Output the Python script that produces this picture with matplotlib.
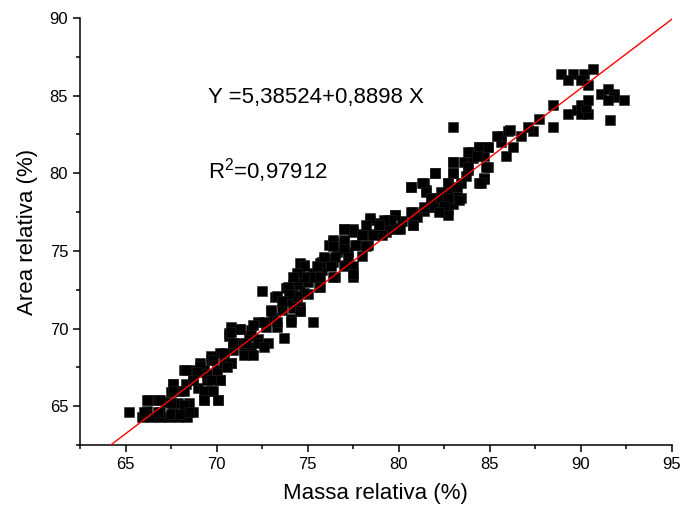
import numpy as np
import matplotlib.pyplot as plt
from matplotlib.ticker import MultipleLocator

plt.rcParams['font.family'] = ['Liberation Sans', 'DejaVu Sans']
plt.rcParams['mathtext.fontset'] = 'custom'
plt.rcParams['mathtext.rm'] = 'Liberation Sans'

# ===================== 数据 =====================
# 相对质量 (%) / 相对面积 (%)
mass_x = [
    65.2,
    65.9, 66.4, 66.9, 67.4, 67.9, 68.4,
    66.2, 66.9, 67.6, 68.3, 68.7,
    66.3, 66.8, 67.2, 67.9, 68.5, 69.3, 70.1,
    67.5, 68.0, 69.0, 69.7,
    67.6, 68.3, 68.7, 69.5, 70.2,
    68.2, 68.7, 69.3, 70.0,
    69.1, 69.7, 70.4, 70.8,
    70.2, 69.7, 70.9, 71.5, 71.9,
    70.9, 71.2, 71.8, 72.3, 72.8, 70.7,
    70.7, 70.8, 71.3, 71.9, 72.7, 73.3, 72.3, 73.1, 74.1,
    73.7, 75.3,
    73.0, 73.6, 74.2, 74.6, 74.6, 74.3,
    73.2, 73.9, 74.4, 75.0, 74.8, 74.2,
    73.8, 74.2, 74.6, 75.6, 72.5,
    74.4, 75.0, 75.3, 76.5, 77.5,
    74.6, 75.3, 75.8, 74.8,
    75.9, 76.4, 77.1, 77.5, 75.8, 74.6, 75.7, 76.3,
    76.6, 77.2, 78.0,
    76.4, 77.0, 77.7, 78.3, 76.2,
    77.5, 77.0, 78.0, 78.5, 79.3,
    78.4, 78.9, 79.4, 79.8, 80.8, 80.0, 80.8, 79.9, 80.2, 79.4,
    80.8, 81.4, 81.9, 82.6, 82.2, 82.7, 83.0,
    81.8, 82.3, 83.4, 82.9, 83.2,
    80.7, 81.5, 82.7, 81.4, 82.7, 83.4,
    82.0, 83.0, 83.8, 83.0, 83.6,
    84.4, 84.7, 84.9,
    84.0, 84.1, 84.7, 84.0, 84.4, 84.9,
    85.9, 86.3, 85.6, 85.6, 86.0, 86.1, 86.7, 87.4, 87.1, 87.7,
    83.0,
    88.5, 88.5,
    89.3, 89.8, 90.0, 90.4, 90.0, 90.3, 90.4,
    91.1, 91.5, 91.8, 91.8, 91.5, 92.4, 91.6,
    88.9, 89.6, 90.2, 90.7, 89.3, 90.0, 90.4,
    # 低端密集区
    73.9, 73.3, 74.4, 73.0, 74.6, 74.1, 73.3,
    70.8, 71.3, 72.0, 72.6, 70.9, 71.6, 72.3, 72.6, 71.5, 72.0, 70.4, 69.8,
    70.8, 70.6, 69.1, 68.3, 68.9, 69.5, 70.2, 69.7, 68.7, 67.6, 67.6, 68.2,
    69.3, 69.8, 69.3, 70.1, 66.2, 66.9, 67.5, 68.2, 68.5, 66.0, 66.8, 67.5, 68.0,
    # 中段密集区
    85.4, 84.4, 84.9, 83.8, 84.3, 84.8, 84.7, 84.5, 83.8, 83.0, 83.7, 82.0, 83.0,
    82.7, 83.2, 81.3, 80.7, 81.5, 82.3, 81.8, 82.7, 83.3, 82.5, 81.9, 81.4, 82.7,
    82.2, 80.7, 81.0, 79.8, 80.8, 80.1, 79.6, 79.2, 78.4, 78.9, 78.2, 77.5, 77.0,
    79.1, 78.6, 78.0, 77.0, 76.4, 77.6, 78.2, 76.4, 77.0, 75.9, 76.5, 77.2, 75.5,
    76.3, 77.0, 77.5, 74.8, 75.2, 75.7, 76.4, 74.8, 75.7, 74.4, 74.2, 74.0, 73.6,
]
area_y = [
    64.6,
    64.3, 64.3, 64.3, 64.3, 64.3, 64.3,
    64.7, 64.6, 64.6, 64.6, 64.6,
    65.4, 65.4, 65.3, 65.2, 65.2, 65.4, 65.4,
    65.9, 66.0, 66.2, 66.0,
    66.4, 66.4, 66.7, 66.7, 66.7,
    67.3, 67.3, 67.3, 67.3,
    67.8, 68.0, 67.8, 67.8,
    68.4, 68.2, 68.6, 68.7, 68.8,
    69.1, 69.1, 69.5, 69.3, 69.1, 69.5,
    69.7, 70.1, 70.0, 69.9, 70.1, 70.1, 70.4, 70.7, 70.6,
    69.4, 70.4,
    71.2, 71.2, 71.3, 71.1, 71.4, 71.8,
    72.0, 71.8, 72.0, 72.2, 72.3, 72.5,
    72.6, 72.8, 72.9, 72.7, 72.4,
    73.1, 73.0, 73.3, 73.3, 73.3,
    73.6, 73.6, 73.8, 74.1,
    74.4, 74.3, 74.1, 74.0, 74.3, 74.2, 74.2, 74.5,
    74.9, 74.9, 74.7,
    75.6, 75.5, 75.4, 75.4, 75.4,
    76.2, 76.4, 76.1, 76.1, 76.2,
    77.0, 76.8, 77.0, 77.3, 77.3, 76.5, 76.7, 76.4, 76.9, 76.4,
    77.5, 77.6, 77.8, 77.5, 77.8, 77.7, 78.0,
    78.4, 78.2, 78.4, 78.5, 78.5,
    79.1, 78.9, 78.7, 79.4, 79.4, 79.4,
    80.0, 80.0, 80.2, 80.7, 80.7,
    79.4, 79.7, 80.4,
    81.1, 81.0, 81.1, 81.4, 81.7, 81.7,
    81.1, 81.7, 82.0, 82.4, 82.7, 82.8, 82.4, 82.7, 83.0, 83.5,
    83.0,
    83.0, 84.4,
    83.8, 84.1, 83.8, 83.8, 84.4, 84.3, 84.7,
    85.1, 85.4, 85.1, 84.9, 84.7, 84.7, 83.4,
    86.4, 86.4, 86.4, 86.7, 86.0, 86.0, 85.7,
    # 低端密集区
    72.7, 72.1, 72.1, 71.1, 71.1, 70.4, 70.4,
    69.8, 70.0, 70.2, 70.4, 69.1, 69.1, 69.1, 68.8, 68.3, 68.3, 68.4, 68.0,
    67.8, 67.5, 67.6, 67.3, 67.2, 67.1, 66.7, 66.7, 66.7, 66.4, 66.0, 66.0,
    66.0, 66.0, 65.4, 65.4, 65.4, 65.4, 65.2, 65.1, 64.6, 64.6, 64.6, 64.5, 64.5,
    # 中段密集区
    82.4, 81.7, 81.7, 81.4, 81.1, 80.4, 79.6, 79.4, 80.4, 80.7, 79.8, 80.0, 80.0,
    79.4, 79.1, 79.4, 79.1, 78.8, 78.8, 78.4, 78.4, 78.3, 77.9, 77.8, 77.8, 77.3,
    77.5, 77.5, 77.2, 77.3, 76.7, 76.4, 77.0, 77.0, 77.1, 76.7, 76.7, 76.4, 76.4,
    76.0, 76.0, 76.0, 75.7, 75.7, 75.4, 75.3, 75.3, 75.1, 74.6, 74.6, 74.6, 74.0,
    74.0, 74.0, 73.5, 74.0, 73.3, 73.3, 73.3, 73.3, 72.7, 73.6, 73.3, 72.2, 71.8,
]

# 线性拟合参数
intercept = 5.38524
slope = 0.8898
x_fit = np.array([64.0, 95.0])

# ===================== 绘图 =====================
fig = plt.figure(figsize=(6.82, 5.13), dpi=100)
ax = fig.add_axes([0.1173, 0.1326, 0.8677, 0.8323])

ax.plot(mass_x, area_y, 's', color='black', markersize=7.2,
        markeredgecolor='#222222', markeredgewidth=0.4, zorder=2)
ax.plot(x_fit, intercept + slope * x_fit, color='red', lw=1.0, zorder=3)

ax.set_xlim(62.5, 95)
ax.set_ylim(62.5, 90)
ax.xaxis.set_minor_locator(MultipleLocator(2.5))
ax.yaxis.set_minor_locator(MultipleLocator(2.5))
ax.set_xticks([65, 70, 75, 80, 85, 90, 95])
ax.set_yticks([65, 70, 75, 80, 85, 90])

for s in ['top', 'right']:
    ax.spines[s].set_visible(False)
for s in ['left', 'bottom']:
    ax.spines[s].set_linewidth(1.1)

ax.tick_params(which='major', direction='out', length=5, width=1.1, labelsize=12)
ax.tick_params(which='minor', direction='out', length=3, width=1.1)

ax.set_xlabel('Massa relativa (%)', fontsize=16, labelpad=8)
ax.set_ylabel('Area relativa (%)', fontsize=16, labelpad=8)

ax.text(69.55, 84.9, 'Y =5,38524+0,8898 X', fontsize=16, va='center', ha='left')
ax.text(69.55, 80.2, r'R$^{\mathrm{2}}$=0,97912', fontsize=16, va='center', ha='left')

fig.savefig('out.png', dpi=100)
plt.close()
